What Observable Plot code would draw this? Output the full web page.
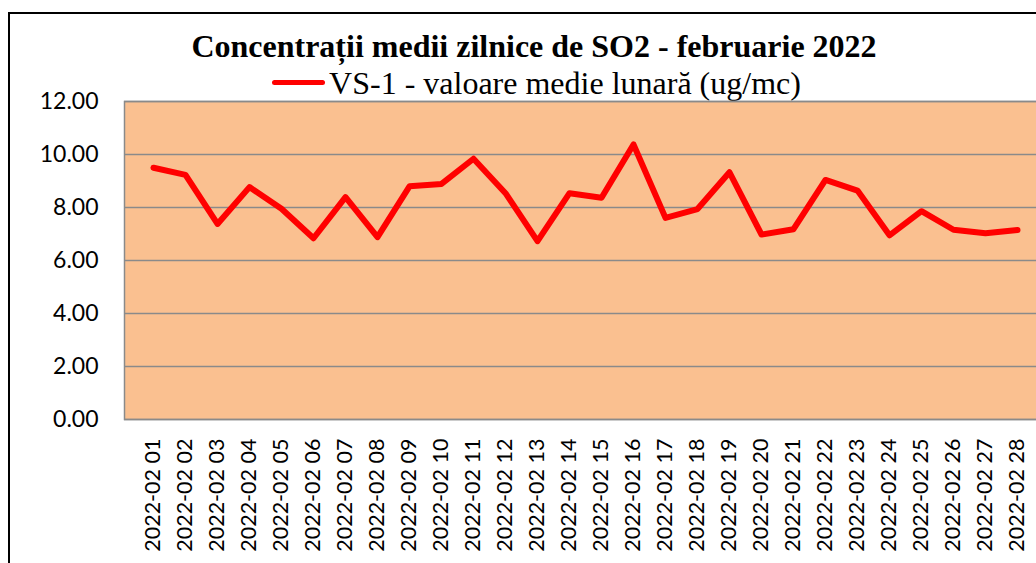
<!DOCTYPE html>
<html>
<head>
<meta charset="utf-8">
<script src="https://cdn.jsdelivr.net/npm/d3@7"></script>
<script src="https://cdn.jsdelivr.net/npm/@observablehq/plot@0.6"></script>
<style>
  html, body { margin: 0; padding: 0; width: 1036px; height: 563px; overflow: hidden; background: #fff; }
  #frame { position: absolute; left: 8px; top: 12px; width: 1200px; height: 700px; border-top: 2px solid #000; border-left: 2px solid #000; box-sizing: border-box; }
  #title { position: absolute; left: 0; top: 28px; width: 1068px; text-align: center; font: bold 32px "Liberation Serif", "Times New Roman", serif; white-space: nowrap; color: #000; }
  #legline { position: absolute; left: 272px; top: 80px; width: 53px; height: 5px; background: #ff0000; border-radius: 3px; }
  #legtext { position: absolute; left: 300px; top: 65px; width: 530px; text-align: center; font: 32px "Liberation Serif", "Times New Roman", serif; white-space: nowrap; color: #000; }
  #chart { position: absolute; left: 0; top: 89px; width: 1060px; height: 474px; }
  #chart svg { max-width: none !important; }
</style>
</head>
<body>
<div id="frame"></div>
<div id="title">Concentrații medii zilnice de SO2 - februarie 2022</div>
<div id="legline"></div>
<div id="legtext">VS-1 - valoare medie lunară (ug/mc)</div>
<div id="chart"></div>
<script>
const days = [
  "2022-02 01","2022-02 02","2022-02 03","2022-02 04","2022-02 05","2022-02 06","2022-02 07",
  "2022-02 08","2022-02 09","2022-02 10","2022-02 11","2022-02 12","2022-02 13","2022-02 14",
  "2022-02 15","2022-02 16","2022-02 17","2022-02 18","2022-02 19","2022-02 20","2022-02 21",
  "2022-02 22","2022-02 23","2022-02 24","2022-02 25","2022-02 26","2022-02 27","2022-02 28"
];
const values = [
  9.50, 9.23, 7.38, 8.77, 7.95, 6.84, 8.39,
  6.88, 8.80, 8.89, 9.84, 8.54, 6.73, 8.54,
  8.37, 10.38, 7.61, 7.94, 9.33, 6.98, 7.18,
  9.04, 8.64, 6.95, 7.86, 7.16, 7.03, 7.15
];
const yTicks = [0, 2, 4, 6, 8, 10, 12];

const data = days.map((d, i) => ({day: d, value: values[i]}));

const chart = Plot.plot({
  width: 1060,
  height: 474,
  marginLeft: 124,
  marginRight: 15,
  marginTop: 12,
  marginBottom: 144,
  style: {fontFamily: "Lato, sans-serif", fontSize: "22px", color: "#000", background: "transparent", overflow: "visible", maxWidth: "none"},
  x: {type: "point", domain: days, padding: 0.5, align: 0.5, label: null},
  y: {domain: [0, 12], label: null},
  marks: [
    Plot.frame({fill: "#FAC090"}),
    Plot.ruleY(yTicks, {stroke: "#8a8a8a", strokeWidth: 1.5}),
    Plot.frame({stroke: "#8a8a8a", strokeWidth: 1.5}),
    Plot.line(data, {x: "day", y: "value", stroke: "#ff0000", strokeWidth: 6, strokeLinejoin: "round", strokeLinecap: "round"}),
    Plot.axisY(yTicks, {tickFormat: d => d.toFixed(2), tickSize: 0, tickPadding: 26, fontSize: 23, fill: "#000"}),
    Plot.axisX(days, {tickRotate: -90, tickSize: 0, tickPadding: 19, fontSize: 21.5, fill: "#000"})
  ]
});
document.getElementById("chart").appendChild(chart);
</script>
</body>
</html>
